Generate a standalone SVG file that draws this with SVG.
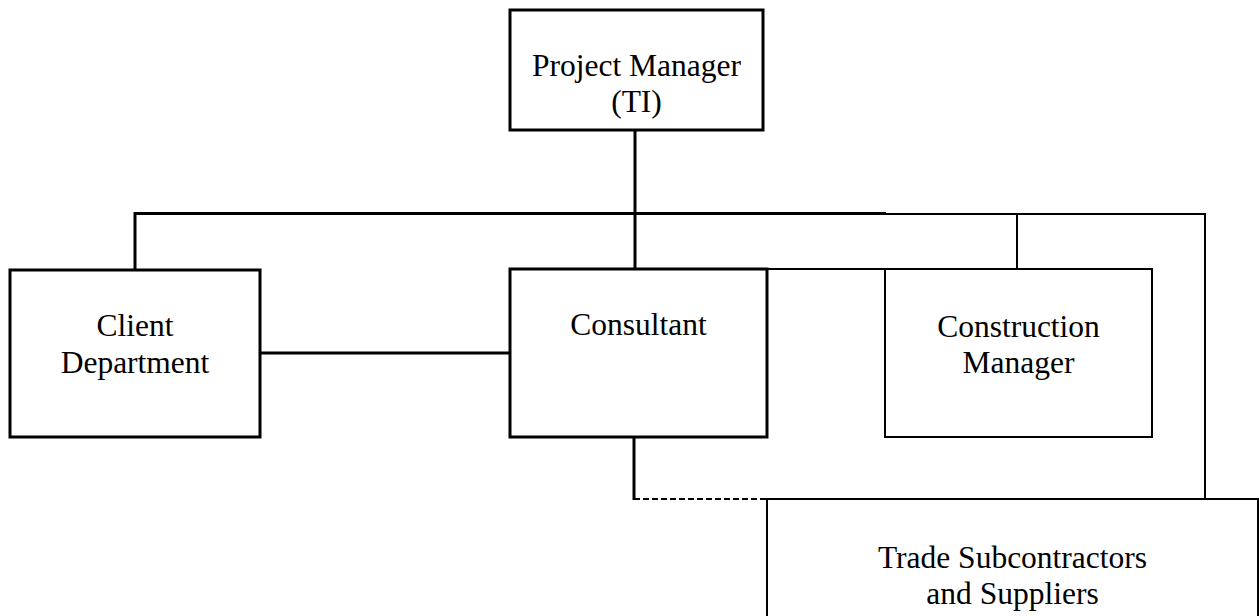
<svg xmlns="http://www.w3.org/2000/svg" width="1259" height="616" viewBox="0 0 1259 616">
<style>
.box{fill:#fff;stroke:#000;stroke-width:3}
.thin{stroke-width:2}
.ln{fill:none;stroke:#000;stroke-width:3}
.tl{fill:none;stroke:#000;stroke-width:2}
.dash{fill:none;stroke:#000;stroke-width:2;stroke-dasharray:6,3}
text{font-family:"Liberation Serif","Times New Roman",serif;font-size:31.5px;fill:#000;text-anchor:middle}
</style>
<rect width="1259" height="616" fill="#fff"/>
<g id="connectors">
<line class="ln" x1="635" y1="130" x2="635" y2="269"/>
<line class="ln" x1="135" y1="213.5" x2="886" y2="213.5"/>
<polyline class="tl" points="885,214 1205,214 1205,499"/>
<line class="tl" x1="1017" y1="214" x2="1017" y2="269"/>
<line class="ln" x1="135" y1="212" x2="135" y2="270"/>
<line class="ln" x1="260" y1="353" x2="510" y2="353"/>
<line class="tl" x1="766" y1="269" x2="886" y2="269"/>
<line class="ln" x1="634" y1="437" x2="634" y2="500"/>
<line class="dash" x1="634" y1="499" x2="767" y2="499"/>
</g>
<g id="project-manager">
<rect class="box" x="510" y="10" width="253" height="120"/>
<text x="636.5" y="76">Project Manager</text>
<text x="636.5" y="112">(TI)</text>
</g>
<g id="client-department">
<rect class="box" x="10" y="270" width="250" height="167"/>
<text x="135" y="336">Client</text>
<text x="135" y="373">Department</text>
</g>
<g id="consultant">
<rect class="box" x="510" y="269" width="257" height="168"/>
<text x="638.5" y="335">Consultant</text>
</g>
<g id="construction-manager">
<rect class="box thin" x="885" y="269" width="267" height="168"/>
<text x="1018.5" y="337">Construction</text>
<text x="1018.5" y="373">Manager</text>
</g>
<g id="trade-subcontractors">
<rect class="box thin" x="767" y="499" width="491" height="130"/>
<text x="1012.5" y="568">Trade Subcontractors</text>
<text x="1012.5" y="604">and Suppliers</text>
</g>
</svg>
